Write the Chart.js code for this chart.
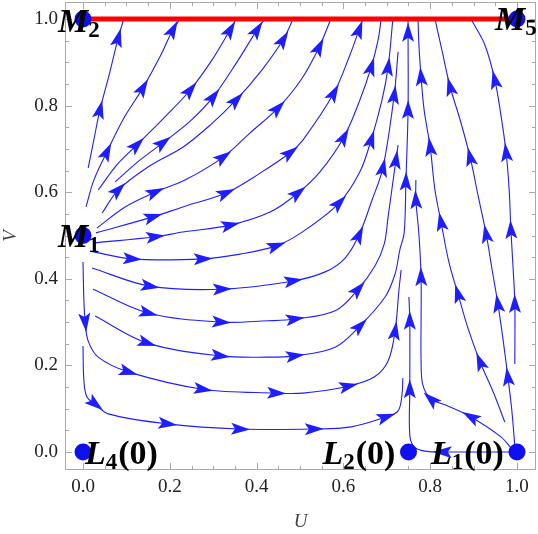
<!DOCTYPE html>
<html>
<head>
<meta charset="utf-8">
<script src="https://cdn.jsdelivr.net/npm/chart.js@4.4.3/dist/chart.umd.min.js"></script>
<style>
  html, body { margin: 0; padding: 0; background: #fff; }
  #wrap { width: 538px; height: 534px; }
</style>
</head>
<body>
<div id="wrap"><canvas id="phase" width="538" height="534"></canvas></div>
<script>
// axis ticks
const xTicks = [0, 0.2, 0.4, 0.6, 0.8, 1.0];
const yTicks = [0, 0.2, 0.4, 0.6, 0.8, 1.0];
const minorTicks = [0, 0.05, 0.1, 0.15, 0.2, 0.25, 0.3, 0.35, 0.4, 0.45, 0.5,
                    0.55, 0.6, 0.65, 0.7, 0.75, 0.8, 0.85, 0.9, 0.95, 1.0];

// equilibrium points
const eqU = [0, 1, 0, 0, 0.75, 1];
const eqV = [1, 1, 0.5, 0, 0, 0];
const eqName = ['M', 'M', 'M', 'L', 'L', 'L'];
const eqSub = ['2', '5', '1', '4', '2', '1'];
const eqTail = ['', '', '', '(0)', '(0)', '(0)'];

// invariant line V = 1
const topLineU = [0, 1];
const topLineV = [1, 1];

// streamlines as [U, V]
const fan1 = [[.012,.656],[.025,.721],[.039,.790],[.062,.878],[.081,.956],[.094,1.0]];
const fan2 = [[.007,.566],[.025,.628],[.055,.693],[.094,.771],[.138,.841],[.177,.912],[.207,.975],[.224,1.0]];
const fan3 = [[.035,.605],[.078,.663],[.124,.709],[.189,.774],[.247,.836],[.297,.905],[.339,.975],[.353,1.0]];
const fan4 = [[.074,.624],[.131,.674],[.184,.714],[.247,.764],[.300,.820],[.355,.901],[.401,.975],[.419,1.0]];
const fan5 = [[.044,.552],[.081,.605],[.154,.661],[.230,.704],[.293,.755],[.353,.813],[.412,.882],[.461,.952],[.484,1.0]];
const fan6 = [[.032,.517],[.097,.566],[.166,.600],[.235,.628],[.323,.681],[.385,.737],[.449,.794],[.502,.859],[.544,.935],[.571,1.0]];
const fan7 = [[.030,.506],[.161,.543],[.230,.566],[.329,.598],[.408,.644],[.477,.691],[.507,.721],[.578,.829],[.615,.917],[.636,.975],[.645,1.0]];
const fan8 = [[.028,.483],[.166,.497],[.230,.508],[.339,.524],[.431,.554],[.495,.598],[.546,.647],[.601,.727],[.638,.813],[.664,.889],[.680,.952],[.687,1.0]];
const rowA = [[.016,.464],[.113,.446],[.276,.446],[.362,.457],[.445,.476],[.502,.506],[.590,.575],[.638,.647],[.664,.721],[.689,.813],[.703,.889],[.714,1.0]];
const rowB = [[.021,.425],[.154,.383],[.320,.376],[.484,.395],[.558,.416],[.604,.448],[.636,.501],[.666,.582],[.691,.656],[.717,.824],[.726,.924]];
const rowC = [[.023,.376],[.150,.321],[.318,.300],[.426,.303],[.488,.307],[.581,.326],[.634,.376],[.673,.430],[.694,.480],[.703,.543],[.721,.674],[.726,.709]];
const rowD = [[.028,.314],[.147,.252],[.316,.222],[.426,.219],[.488,.222],[.581,.242],[.638,.291],[.696,.358],[.719,.411],[.730,.467],[.740,.506],[.744,.624],[.749,.790],[.749,.968],[.749,1.0]];
const rowE = [[0,.439],[.002,.351],[.005,.300],[.012,.256],[.035,.219],[.104,.185],[.276,.145],[.445,.136],[.507,.136],[.611,.152],[.671,.173],[.703,.210],[.719,.279],[.728,.374],[.733,.420]];
const rowF = [[0,.245],[.002,.166],[.009,.127],[.028,.111],[.058,.088],[.194,.065],[.362,.053],[.532,.053],[.618,.058],[.698,.081],[.726,.095],[.735,.132],[.737,.171]];
const fromL1Left = [[.988,0],[.915,0],[.829,0],[.788,.002],[.763,.012],[.753,.039],[.753,.145],[.753,.303],[.751,.358]];
const fromL1Bend = [[.988,.007],[.963,.035],[.894,.081],[.834,.109],[.802,.122],[.783,.155],[.779,.212],[.779,.305],[.779,.404],[.774,.503],[.767,.582],[.767,.628]];
const right3 = [[.972,.069],[.945,.139],[.915,.208],[.887,.286],[.864,.365],[.843,.439],[.825,.531],[.811,.605],[.800,.704],[.786,.790],[.779,.866],[.774,.940],[.772,1.0]];
const right2 = [[.995,.014],[.988,.097],[.979,.173],[.968,.259],[.956,.342],[.942,.425],[.929,.503],[.910,.594],[.892,.681],[.869,.767],[.846,.843],[.827,.928],[.811,1.0]];
const right1 = [[.995,.203],[.995,.342],[.991,.425],[.986,.513],[.982,.605],[.975,.691],[.963,.778],[.949,.859],[.926,.940],[.894,1.0]];

const streamlines = [fan1, fan2, fan3, fan4, fan5, fan6, fan7, fan8, rowA, rowB, rowC, rowD,
                     rowE, rowF, fromL1Left, fromL1Bend, right3, right2, right1];
// which vertices carry an arrowhead
const arrowAt = [[2,4],[2,4,6],[2,4,6],[2,4,6],[1,5,7],[2,4,6,8],[1,3,5,7,9],[1,3,5,7,9],
                 [1,2,4,6,8,10],[1,2,3,6,8,9],[1,2,4,6,10],[1,2,4,6,11,12,13],
                 [2,5,6,7,9,12],[3,5,6,7,9],[2,6,7],[2,4,8,10],[2,4,6,8,10],[2,4,6,8,10],[1,3,5,7]];

const lineBlue = 'rgb(30,30,255)';
const dotBlue = 'rgb(15,15,240)';
const serif = '"Liberation Serif", "Times New Roman", serif';
const labelOffset = [[-25,13],[-22,11],[-25,11],[2,12],[-86,12],[-86,12]];

const datasets = [];
datasets.push({
    data: eqU.map((u, i) => ({ x: u, y: eqV[i] })),
    pointRadius: 8.5,
    pointBackgroundColor: dotBlue,
    pointBorderWidth: 0,
    showLine: false,
    clip: false
});
datasets.push({
    data: topLineU.map((u, i) => ({ x: u, y: topLineV[i] })),
    showLine: true,
    borderColor: 'rgb(255,0,0)',
    borderWidth: 5,
    pointRadius: 0,
    clip: false
});
streamlines.forEach(line => {
    datasets.push({
        data: line.map(([u, v]) => ({ x: u, y: v })),
        showLine: true,
        borderColor: lineBlue,
        borderWidth: 1.1,
        pointRadius: 0,
        tension: 0.35,
        fill: false
    });
});

function drawLabel(ctx, x0, y0, main, sub, tail) {
    ctx.fillStyle = '#000';
    ctx.textBaseline = 'alphabetic';
    ctx.textAlign = 'left';
    ctx.font = 'italic bold 34px ' + serif;
    ctx.fillText(main, x0, y0);
    let x = x0 + ctx.measureText(main).width;
    ctx.font = 'bold 23px ' + serif;
    ctx.fillText(sub, x, y0 + 5);
    x += ctx.measureText(sub).width;
    if (tail) {
        ctx.font = 'bold 34px ' + serif;
        ctx.fillText(tail, x + 1, y0);
    }
}

function noEdgePadding(s) {
    s.paddingTop = 0;
    s.paddingBottom = 0;
    s.paddingLeft = 0;
    s.paddingRight = 0;
}

const phasePlugin = {
    id: 'phase',
    beforeDatasetsDraw(chart) {
        const { ctx, scales: { x, y } } = chart;
        ctx.save();
        ctx.fillStyle = lineBlue;
        streamlines.forEach((line, k) => {
            arrowAt[k].forEach(i => {
                const a = line[i - 1], p = line[i], b = line[i + 1] || line[i];
                const px = x.getPixelForValue(p[0]), py = y.getPixelForValue(p[1]);
                let dx = x.getPixelForValue(b[0]) - x.getPixelForValue(a[0]);
                let dy = y.getPixelForValue(b[1]) - y.getPixelForValue(a[1]);
                const len = Math.hypot(dx, dy) || 1;
                dx /= len; dy /= len;
                const nx = -dy, ny = dx;
                ctx.beginPath();
                ctx.moveTo(px + dx * 10, py + dy * 10);
                ctx.lineTo(px - dx * 9 + nx * 6, py - dy * 9 + ny * 6);
                ctx.lineTo(px - dx * 5, py - dy * 5);
                ctx.lineTo(px - dx * 9 - nx * 6, py - dy * 9 - ny * 6);
                ctx.closePath();
                ctx.fill();
            });
        });
        ctx.restore();
    },
    afterDatasetsDraw(chart) {
        const { ctx, chartArea: { left, right, top, bottom }, scales: { x, y } } = chart;
        ctx.save();
        // frame
        ctx.strokeStyle = '#a8a8a8';
        ctx.lineWidth = 1;
        ctx.strokeRect(left + 0.5, top + 0.5, right - left - 1, bottom - top - 1);
        // inward ticks on all four sides
        minorTicks.forEach((v, k) => {
            const len = k % 4 === 0 ? 7 : 4;
            const px = Math.round(x.getPixelForValue(v)) + 0.5;
            const py = Math.round(y.getPixelForValue(v)) + 0.5;
            ctx.beginPath();
            ctx.moveTo(px, bottom); ctx.lineTo(px, bottom - len);
            ctx.moveTo(px, top); ctx.lineTo(px, top + len);
            ctx.moveTo(left, py); ctx.lineTo(left + len, py);
            ctx.moveTo(right, py); ctx.lineTo(right - len, py);
            ctx.stroke();
        });
        // equilibrium labels
        eqU.forEach((u, i) => {
            const px = x.getPixelForValue(u) + labelOffset[i][0];
            const py = y.getPixelForValue(eqV[i]) + labelOffset[i][1];
            drawLabel(ctx, px, py, eqName[i], eqSub[i], eqTail[i]);
        });
        ctx.restore();
    }
};

new Chart(document.getElementById('phase'), {
    type: 'scatter',
    data: { datasets },
    options: {
        responsive: false,
        animation: false,
        layout: { autoPadding: false, padding: { top: 2, right: 2, left: 0, bottom: 0 } },
        plugins: { legend: { display: false }, tooltip: { enabled: false } },
        scales: {
            x: {
                type: 'linear',
                min: -0.0415,
                max: 1.0438,
                afterFit: s => { s.height = 64; noEdgePadding(s); },
                afterBuildTicks: s => { s.ticks = xTicks.map(v => ({ value: v })); },
                grid: { display: false, drawTicks: false },
                border: { display: false },
                ticks: {
                    padding: 6,
                    color: '#222',
                    font: { family: serif, size: 19 },
                    callback: v => Number(v).toFixed(1)
                },
                title: {
                    display: true,
                    text: 'U',
                    color: '#444',
                    font: { family: serif, size: 19, style: 'italic' },
                    padding: { top: 0, bottom: 1 }
                }
            },
            y: {
                type: 'linear',
                min: -0.0416,
                max: 1.0393,
                afterFit: s => { s.width = 65; noEdgePadding(s); },
                afterBuildTicks: s => { s.ticks = yTicks.map(v => ({ value: v })); },
                grid: { display: false, drawTicks: false },
                border: { display: false },
                ticks: {
                    padding: 7,
                    color: '#222',
                    font: { family: serif, size: 19 },
                    callback: v => Number(v).toFixed(1)
                },
                title: {
                    display: true,
                    text: 'V',
                    color: '#444',
                    font: { family: serif, size: 19, style: 'italic' },
                    padding: { top: 0, bottom: 0 }
                }
            }
        }
    },
    plugins: [phasePlugin]
});
</script>
</body>
</html>
